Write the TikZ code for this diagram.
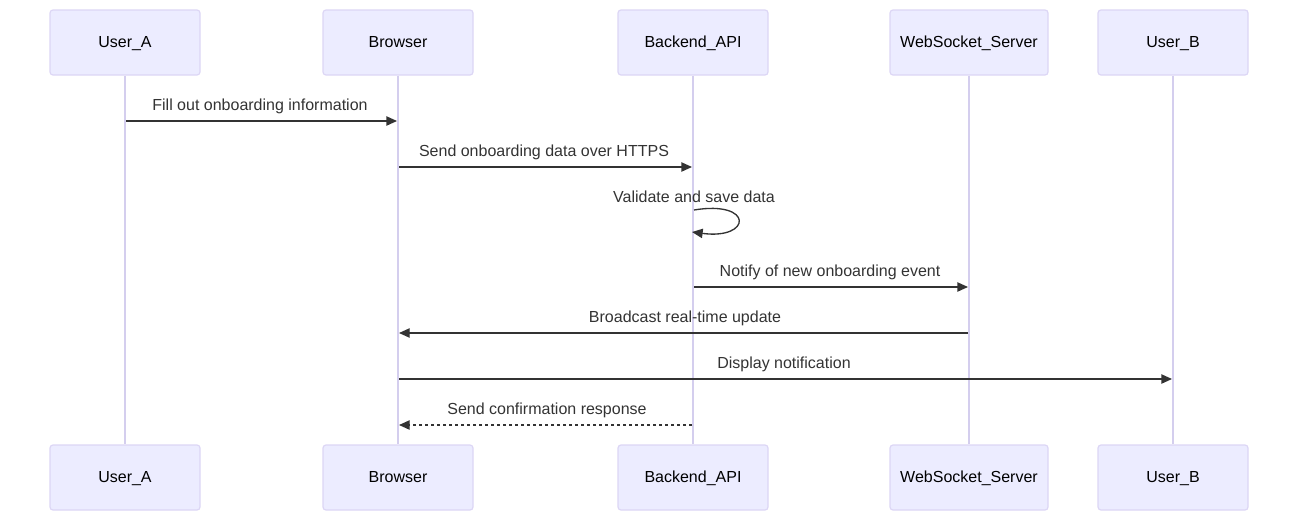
\documentclass[tikz,border=0pt]{standalone}
\usepackage{fontspec}
\setmainfont{Liberation Sans}
\usetikzlibrary{arrows.meta,calc}
\definecolor{actfill}{HTML}{ECECFF}
\definecolor{actborder}{HTML}{DCD6F5}
\definecolor{lifeln}{HTML}{D4CEEE}
\definecolor{msgcol}{HTML}{333333}
\begin{document}
\begin{tikzpicture}[x=0.75pt,y=-0.75pt,
  actor/.style={draw=actborder,fill=actfill,line width=0.9pt,rounded corners=2.2pt,
    minimum width=112.5pt,minimum height=48.75pt,inner sep=0pt,
    text height=10pt,text depth=2.6pt,
    font=\fontsize{12}{14}\selectfont,text=black},
  wideactor/.style={actor,minimum width=118.5pt},
  life/.style={draw=lifeln,line width=1.2pt},
  msg/.style={draw=msgcol,line width=1pt,-{Triangle[length=8pt,width=7pt]}},
  dmsg/.style={msg,dash pattern=on 2.25pt off 2.25pt},
  lbl/.style={font=\fontsize{12}{14}\selectfont,text=msgcol,inner sep=0pt,
    text height=8.6pt,text depth=2.6pt}]
\useasboundingbox (0,0) rectangle (1298,521);
% top actors
\node[actor] (ua) at (125,42.5) {User\_A};
\node[actor] (br) at (398,42.5) {Browser};
\node[actor] (ba) at (693,42.5) {Backend\_API};
\node[wideactor] (ws) at (969,42.5) {WebSocket\_Server};
\node[actor] (ub) at (1173,42.5) {User\_B};
% bottom actors
\node[actor] (ua2) at (125,477.5) {User\_A};
\node[actor] (br2) at (398,477.5) {Browser};
\node[actor] (ba2) at (693,477.5) {Backend\_API};
\node[wideactor] (ws2) at (969,477.5) {WebSocket\_Server};
\node[actor] (ub2) at (1173,477.5) {User\_B};
% lifelines
\foreach \a in {ua,br,ba,ws,ub}{
  \draw[life] (\a.south) -- (\a2.north);
}
% message rows
\coordinate (m1) at (0,121);
\coordinate (m2) at (0,167);
\coordinate (m3) at (0,210);
\coordinate (m4) at (0,287);
\coordinate (m5) at (0,333);
\coordinate (m6) at (0,379);
\coordinate (m7) at (0,425);
% messages
\draw[msg] ($(ua.south |- m1)+(1,0)$) -- ($(br.south |- m1)+(-1,0)$);
\node[lbl] (l1) at (260,106) {Fill out onboarding information};
\draw[msg] ($(br.south |- m2)+(1,0)$) -- ($(ba.south |- m2)+(-1,0)$);
\node[lbl] (l2) at (544,152) {Send onboarding data over HTTPS};
\draw[msg] ($(ba.south |- m3)+(1,0)$) .. controls +(60,-10) and +(60,8) .. ($(ba.south |- m3)+(-1,22)$);
\node[lbl] (l3) at (694,198) {Validate and save data};
\draw[msg] ($(ba.south |- m4)+(1,0)$) -- ($(ws.south |- m4)+(-1,0)$);
\node[lbl] (l4) at (830,272) {Notify of new onboarding event};
\draw[msg] ($(ws.south |- m5)+(-1,0)$) -- ($(br.south |- m5)+(1,0)$);
\node[lbl] (l5) at (685,318) {Broadcast real-time update};
\draw[msg] ($(br.south |- m6)+(1,0)$) -- ($(ub.south |- m6)+(-1,0)$);
\node[lbl] (l6) at (784,364) {Display notification};
\draw[dmsg] ($(ba.south |- m7)+(-1,0)$) -- ($(br.south |- m7)+(1,0)$);
\node[lbl] (l7) at (547,410) {Send confirmation response};
\end{tikzpicture}
\end{document}
